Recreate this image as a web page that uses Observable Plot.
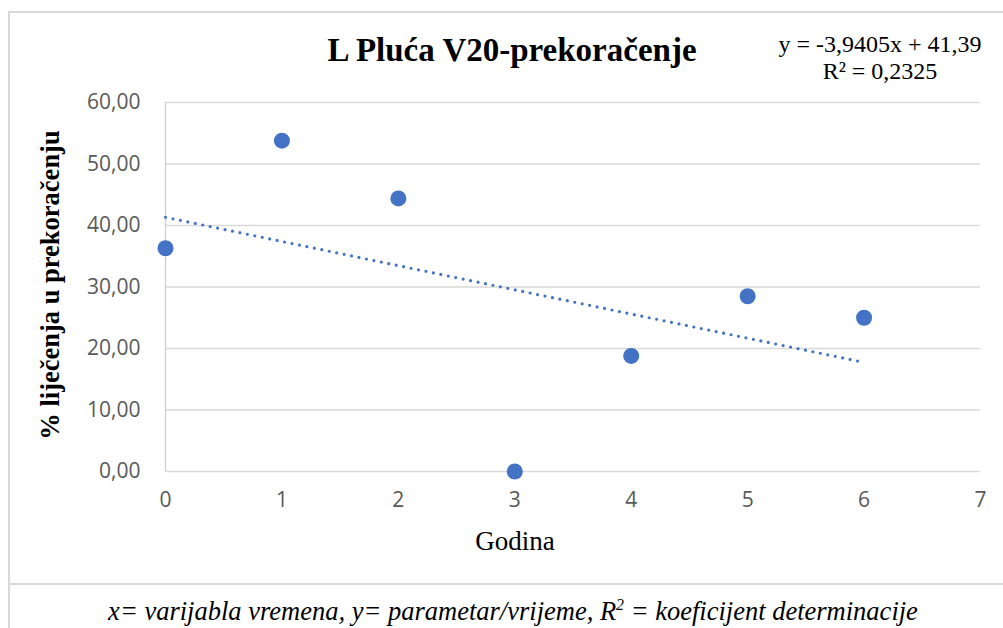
<!DOCTYPE html>
<html>
<head>
<meta charset="utf-8">
<script src="https://cdn.jsdelivr.net/npm/d3@7"></script>
<script src="https://cdn.jsdelivr.net/npm/@observablehq/plot@0.6"></script>
<style>
  html, body { margin: 0; padding: 0; background: #fff; }
  #wrap { position: relative; width: 1003px; height: 628px; overflow: hidden; background: #fff; }
  .frame { position: absolute; left: 8px; top: 11px; width: 1100px; height: 574px; border: 2px solid #d9d9d9; box-sizing: border-box; }
  .frame2 { position: absolute; left: 8px; top: 585px; width: 2px; height: 60px; background: #d9d9d9; }
  #chart { position: absolute; left: 0; top: 0; }
  .t { position: absolute; white-space: nowrap; font-family: "Liberation Serif", "Times New Roman", serif; color: #000; }
  #title { left: 512px; top: 50px; transform: translate(-50%, -50%); font-size: 33px; font-weight: bold; }
  #eq { left: 880px; top: 58px; transform: translate(-50%, -50%); font-size: 24px; text-align: center; line-height: 27px; }
  #ylab { left: 50px; top: 285px; transform: translate(-50%, -50%) rotate(-90deg); font-size: 26.5px; font-weight: bold; }
  #xlab { left: 515px; top: 541px; transform: translate(-50%, -50%); font-size: 27px; }
  #cap { left: 513px; top: 611px; transform: translate(-50%, -50%); font-size: 26.5px; font-style: italic; }
</style>
</head>
<body>
<div id="wrap">
  <div class="frame"></div>
  <div class="frame2"></div>
  <div id="chart"></div>
  <div class="t" id="title"></div>
  <div class="t" id="eq"></div>
  <div class="t" id="ylab"></div>
  <div class="t" id="xlab"></div>
  <div class="t" id="cap"></div>
</div>
<script>
// Data
const years = [0, 1, 2, 3, 4, 5, 6];
const values = [36.3, 53.8, 44.4, 0.0, 18.8, 28.5, 25.0];
const xTicks = [0, 1, 2, 3, 4, 5, 6, 7];
const yTicks = [0, 10, 20, 30, 40, 50, 60];
const titleText = "L Pluća V20-prekoračenje";
const eqLine1 = "y = -3,9405x + 41,39";
const eqLine2 = "R² = 0,2325";
const yLabel = "% liječenja u prekoračenju";
const xLabel = "Godina";
const caption = "x= varijabla vremena, y= parametar/vrijeme, R<sup style=\"font-size:0.6em\">2</sup> = koeficijent determinacije";

const data = years.map((x, i) => ({x, y: values[i]}));
const fmt = v => v.toFixed(2).replace(".", ",");

const blue = "#4472C4";
const plot = Plot.plot({
  width: 1003,
  height: 587,
  marginLeft: 165,
  marginRight: 23,
  marginTop: 102,
  marginBottom: 116,
  style: { fontFamily: "'Open Sans', sans-serif", fontSize: "21px", color: "#595959", background: "transparent" },
  x: { domain: [0, 7], ticks: xTicks, tickSize: 0, tickPadding: 21, tickFormat: d => String(d), label: null },
  y: { domain: [0, 60], ticks: yTicks, tickSize: 0, tickPadding: 25, tickFormat: fmt, label: null },
  marks: [
    Plot.gridY(yTicks, { stroke: "#d9d9d9", strokeOpacity: 1, strokeWidth: 1.3 }),
    Plot.ruleX([0], { y1: 0, y2: 60, stroke: "#d0d0d0", strokeWidth: 1.3 }),
    Plot.axisX({ ticks: xTicks, tickSize: 0, tickPadding: 21, tickFormat: d => String(d), label: null, fill: "#595959" }),
    Plot.axisY({ ticks: yTicks, tickSize: 0, tickPadding: 25, tickFormat: fmt, label: null, fill: "#595959" }),
    Plot.linearRegressionY(data, { x: "x", y: "y", ci: 0, stroke: blue, strokeWidth: 3.2, strokeDasharray: "0 7.6", strokeLinecap: "round" }),
    Plot.dot(data, { x: "x", y: "y", r: 8, fill: blue, stroke: "none" })
  ]
});
document.getElementById("chart").appendChild(plot);
document.getElementById("title").textContent = titleText;
document.getElementById("eq").innerHTML = eqLine1 + "<br>" + eqLine2;
document.getElementById("ylab").textContent = yLabel;
document.getElementById("xlab").textContent = xLabel;
document.getElementById("cap").innerHTML = caption;
</script>
</body>
</html>
